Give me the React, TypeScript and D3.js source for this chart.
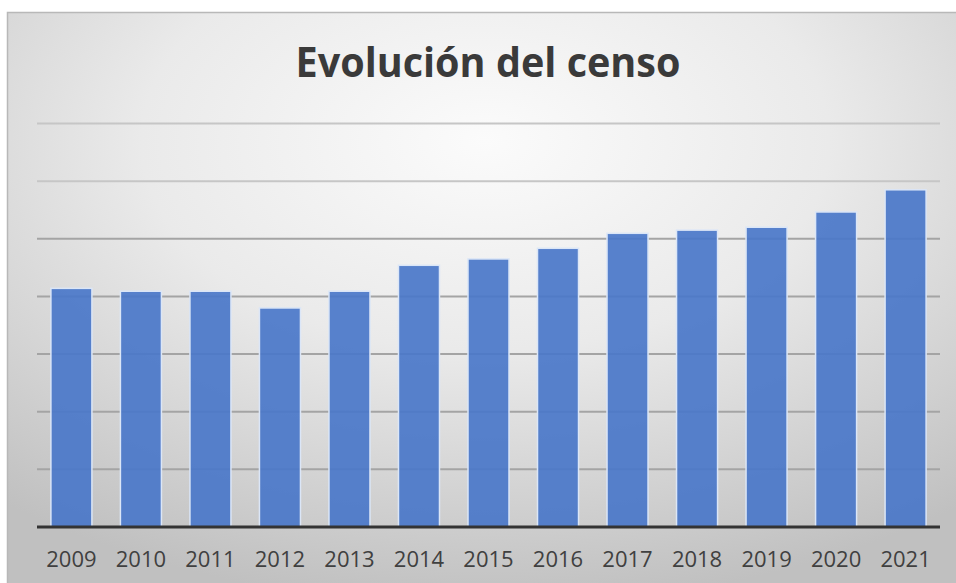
import React from "react";
import * as d3 from "d3";

const years = ["2009","2010","2011","2012","2013","2014","2015","2016","2017","2018","2019","2020","2021"];
const values = [4.14, 4.09, 4.09, 3.80, 4.09, 4.54, 4.65, 4.835, 5.095, 5.15, 5.20, 5.465, 5.85];
const gridTicks = [1, 2, 3, 4, 5, 6, 7];
const title = "Evolución del censo";

const W = 956, H = 583;

export default function App() {
  const x = d3.scaleBand<string>().domain(years).range([37, 940]).paddingInner(0.41).paddingOuter(0.2);
  const y = d3.scaleLinear().domain([0, 7]).range([527, 123.5]);
  return (
    <svg width={W} height={H} style={{ position: "absolute", left: 0, top: 0, background: "#ffffff" }}>
      <defs>
        <radialGradient id="bg" cx="50%" cy="22%" r="80%" fx="50%" fy="22%">
          <stop offset="0%" stopColor="#fbfbfb" />
          <stop offset="45%" stopColor="#eaeaea" />
          <stop offset="100%" stopColor="#c0c0c0" />
        </radialGradient>
      </defs>
      <rect x={7.5} y={12.5} width={W} height={H} fill="url(#bg)" stroke="#b8b8b8" strokeWidth={1.5} />
      <text x={488} y={77} textAnchor="middle" fontFamily="'Open Sans', sans-serif" fontWeight={700} fontSize={42}
        fill="#3a3a3a" textLength={385} lengthAdjust="spacingAndGlyphs">{title}</text>
      {gridTicks.map((t) => (
        <line key={t} x1={37} x2={940} y1={y(t)} y2={y(t)} stroke={t >= 6 ? "#c6c6c6" : "#a4a4a4"} strokeWidth={2} />
      ))}
      {years.map((yr, i) => (
        <rect key={yr} x={x(yr)} y={y(values[i])} width={x.bandwidth()} height={y(0) - y(values[i])}
          fill="#4a77c9" fillOpacity={0.92} stroke="#dbe6f7" strokeWidth={1.5} />
      ))}
      <line x1={37} x2={940} y1={y(0)} y2={y(0)} stroke="#333333" strokeWidth={3} />
      {years.map((yr) => (
        <text key={yr} x={(x(yr) as number) + x.bandwidth() / 2} y={567} textAnchor="middle"
          fontFamily="'Open Sans', sans-serif" fontSize={22} fill="#404040">{yr}</text>
      ))}
    </svg>
  );
}
